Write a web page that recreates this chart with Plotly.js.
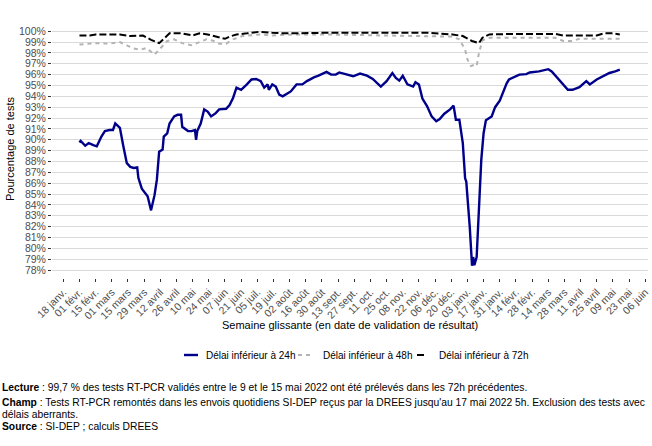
<!DOCTYPE html>
<html>
<head>
<meta charset="utf-8">
<script src="https://cdn.plot.ly/plotly-3.0.1.min.js"></script>
<style>html,body{margin:0;padding:0;background:#fff;}#chart{width:652px;height:446px;}</style>
</head>
<body>
<div id="chart"></div>
<script>
// ---- Data ----
var blueDates = ['2021-02-01','2021-02-02','2021-02-06','2021-02-09','2021-02-13','2021-02-16','2021-02-20','2021-02-23','2021-02-27',
 '2021-03-02','2021-03-04','2021-03-08','2021-03-11','2021-03-14','2021-03-17','2021-03-20','2021-03-23','2021-03-24','2021-03-27','2021-03-30',
 '2021-04-01','2021-04-04','2021-04-07','2021-04-09','2021-04-11','2021-04-14','2021-04-15','2021-04-18','2021-04-20','2021-04-24','2021-04-27','2021-04-30',
 '2021-05-01','2021-05-06','2021-05-09','2021-05-12','2021-05-13','2021-05-14','2021-05-17','2021-05-20','2021-05-23','2021-05-26','2021-05-30',
 '2021-06-02','2021-06-08','2021-06-11','2021-06-14','2021-06-17','2021-06-21','2021-06-26','2021-06-30',
 '2021-07-04','2021-07-08','2021-07-11','2021-07-14','2021-07-15','2021-07-18','2021-07-21','2021-07-24','2021-07-27','2021-07-31',
 '2021-08-03','2021-08-08','2021-08-13','2021-08-17','2021-08-23','2021-08-27',
 '2021-09-03','2021-09-07','2021-09-11','2021-09-14','2021-09-20','2021-09-26',
 '2021-10-02','2021-10-08','2021-10-13','2021-10-20','2021-10-25','2021-10-30',
 '2021-11-02','2021-11-05','2021-11-08','2021-11-12','2021-11-17','2021-11-19','2021-11-22','2021-11-25','2021-11-29',
 '2021-12-03','2021-12-07','2021-12-10','2021-12-14','2021-12-17','2021-12-19','2021-12-22','2021-12-24','2021-12-27','2021-12-30',
 '2022-01-01','2022-01-02','2022-01-05','2022-01-07','2022-01-08','2022-01-09','2022-01-11','2022-01-13','2022-01-15','2022-01-17','2022-01-19','2022-01-24','2022-01-27','2022-01-31',
 '2022-02-03','2022-02-06','2022-02-08','2022-02-11','2022-02-17','2022-02-23','2022-02-26',
 '2022-03-06','2022-03-14','2022-03-17','2022-03-23','2022-03-27','2022-03-31',
 '2022-04-04','2022-04-10','2022-04-16','2022-04-19','2022-04-25','2022-04-30',
 '2022-05-06','2022-05-11','2022-05-15'];
var blueVals = [89.75,89.9,89.45,89.7,89.5,89.4,90.3,90.8,90.9,
 90.9,91.5,91.1,89.4,87.85,87.5,87.4,87.45,86.5,85.5,85.1,
 84.8,83.5,84.9,86.3,88.9,89.1,90.3,90.6,91.5,92.15,92.3,92.3,
 91.2,90.8,90.8,90.9,90.0,90.8,91.5,92.8,92.6,92.15,92.45,
 92.8,92.85,93.2,93.85,94.8,94.6,95.1,95.55,
 95.6,95.4,94.8,95.1,94.6,95.1,94.9,94.15,94.0,94.3,
 94.45,95.1,95.1,95.4,95.75,95.9,
 96.25,96.0,96.0,96.2,96.05,95.85,
 96.1,95.9,95.6,94.9,95.4,96.15,
 95.7,95.45,95.9,95.1,94.9,95.3,95.1,93.8,93.1,
 92.15,91.7,91.9,92.4,92.6,92.8,93.15,91.85,91.85,89.7,
 86.45,86.15,82.0,78.4,79.2,78.45,79.2,83.2,88.15,90.6,91.8,92.15,93.0,93.6,
 94.45,95.2,95.55,95.7,96.0,96.05,96.2,
 96.3,96.5,96.3,95.55,95.1,94.6,
 94.6,94.85,95.4,95.1,95.55,95.85,
 96.15,96.3,96.45];

var grayDates = ['2021-02-01','2021-02-07','2021-02-15','2021-02-27','2021-03-08','2021-03-14','2021-03-20','2021-03-26','2021-03-31',
 '2021-04-04','2021-04-07','2021-04-11','2021-04-18','2021-04-24','2021-05-01','2021-05-09','2021-05-14','2021-05-22','2021-05-27',
 '2021-06-02','2021-06-08','2021-06-14','2021-06-22','2021-07-07','2021-07-18','2021-08-04','2021-09-01','2021-10-01','2021-11-01',
 '2021-12-01','2021-12-20','2021-12-27','2022-01-01','2022-01-03','2022-01-06','2022-01-09','2022-01-11','2022-01-13','2022-01-16','2022-01-22',
 '2022-02-15','2022-03-20','2022-03-27','2022-04-04','2022-04-10','2022-04-25','2022-05-15'];
var grayVals = [98.77,98.8,98.9,98.85,99.0,98.7,98.4,98.3,98.45,
 98.1,97.85,98.3,99.1,99.25,98.9,98.7,98.9,99.25,99.15,
 98.85,98.85,99.25,99.55,99.7,99.6,99.7,99.7,99.65,99.6,
 99.55,99.5,99.25,98.3,97.4,96.8,96.9,96.8,98.0,99.15,99.4,
 99.4,99.4,99.1,99.1,99.3,99.3,99.3];

var blackDates = ['2021-02-01','2021-02-10','2021-02-15','2021-03-08','2021-03-17','2021-03-23','2021-03-28','2021-04-04','2021-04-11','2021-04-20',
 '2021-05-01','2021-05-10','2021-05-16','2021-05-23','2021-06-02','2021-06-07','2021-06-11','2021-06-17','2021-06-26',
 '2021-07-07','2021-07-18','2021-07-30','2021-09-01','2021-10-01','2021-11-01','2021-12-01','2021-12-21','2021-12-30',
 '2022-01-07','2022-01-13','2022-01-16','2022-01-22','2022-02-15','2022-03-20','2022-03-27','2022-04-25','2022-05-01','2022-05-08','2022-05-15'];
var blackVals = [99.6,99.6,99.7,99.7,99.55,99.55,99.6,99.2,98.9,99.8,
 99.8,99.6,99.8,99.7,99.4,99.3,99.5,99.7,99.8,
 99.95,99.85,99.8,99.85,99.85,99.85,99.85,99.7,99.55,
 99.1,98.9,99.4,99.7,99.75,99.75,99.6,99.6,99.8,99.8,99.7];

var seriesNames = ['Délai inférieur à 24h','Délai inférieur à 48h','Délai inférieur à 72h'];

var xTickVals = ['2021-01-18','2021-02-01','2021-02-15','2021-03-01','2021-03-15','2021-03-29','2021-04-12','2021-04-26','2021-05-10','2021-05-24',
 '2021-06-07','2021-06-21','2021-07-05','2021-07-19','2021-08-02','2021-08-16','2021-08-30','2021-09-13','2021-09-27','2021-10-11','2021-10-25',
 '2021-11-08','2021-11-22','2021-12-06','2021-12-20','2022-01-03','2022-01-17','2022-01-31','2022-02-14','2022-02-28','2022-03-14','2022-03-28',
 '2022-04-11','2022-04-25','2022-05-09','2022-05-23','2022-06-06'];
var xTickText = ['18 janv.','01 févr.','15 févr.','01 mars','15 mars','29 mars','12 avril','26 avril','10 mai','24 mai',
 '07 juin','21 juin','05 juil.','19 juil.','02 août','16 août','30 août','13 sept.','27 sept.','11 oct.','25 oct.',
 '08 nov.','22 nov.','06 déc.','20 déc.','03 janv.','17 janv.','31 janv.','14 févr.','28 févr.','14 mars','28 mars',
 '11 avril','25 avril','09 mai','23 mai','06 juin'];
var yTickVals = [78,79,80,81,82,83,84,85,86,87,88,89,90,91,92,93,94,95,96,97,98,99,100];
var yTickText = yTickVals.map(function(v){return v+'%';});

var footLines = [
 '<b>Lecture</b> : 99,7 % des tests RT-PCR validés entre le 9 et le 15 mai 2022 ont été prélevés dans les 72h précédentes.',
 '<b>Champ</b> : Tests RT-PCR remontés dans les envois quotidiens SI-DEP reçus par la DREES jusqu\'au 17 mai 2022 5h. Exclusion des tests avec',
 'délais aberrants.',
 '<b>Source</b> : SI-DEP ; calculs DREES'
];

// ---- Geometry helpers (pixels -> paper) ----
var W = 652, H = 446, ML = 52, MR = 4, MT = 20, MB = 168;
var PW = W - ML - MR, PH = H - MT - MB;
function px(x){ return (x - ML) / PW; }
function py(y){ return (H - MB - y) / PH; }

var colors = ['#00008B', '#B3B3B3', '#000000'];

var traces = [
 {x: blueDates, y: blueVals, type: 'scatter', mode: 'lines', name: seriesNames[0],
  line: {color: colors[0], width: 2.4}},
 {x: grayDates, y: grayVals, type: 'scatter', mode: 'lines', name: seriesNames[1],
  line: {color: colors[1], width: 2, dash: '4px,4px'}},
 {x: blackDates, y: blackVals, type: 'scatter', mode: 'lines', name: seriesNames[2],
  line: {color: colors[2], width: 2, dash: '7px,3px'}}
];

var legY = py(355);
var shapes = [
 {type:'line', xref:'paper', yref:'paper', x0:px(184), x1:px(198), y0:legY, y1:legY, line:{color:colors[0], width:2.4}},
 {type:'line', xref:'paper', yref:'paper', x0:px(298), x1:px(314), y0:legY, y1:legY, line:{color:colors[1], width:2, dash:'4px,4px'}},
 {type:'line', xref:'paper', yref:'paper', x0:px(417), x1:px(428), y0:legY, y1:legY, line:{color:colors[2], width:2, dash:'7px,4px'}}
];

var annFont = {family: 'Liberation Sans, Arial, sans-serif', size: 10, color: '#000'};
var footFont = {family: 'Liberation Sans, Arial, sans-serif', size: 10.3, color: '#000'};
var annotations = [
 {text: 'Semaine glissante (en date de validation de résultat)', xref:'paper', yref:'paper', x: px(350), y: py(325),
  xanchor:'center', yanchor:'middle', showarrow:false, font:{family:'Liberation Sans, Arial, sans-serif', size:11, color:'#000'}},
 {text: 'Pourcentage de tests', xref:'paper', yref:'paper', x: px(10), y: py(149), textangle:-90,
  xanchor:'center', yanchor:'middle', showarrow:false, font:{family:'Liberation Sans, Arial, sans-serif', size:11, color:'#000'}},
 {text: seriesNames[0], xref:'paper', yref:'paper', x: px(204), y: legY, xanchor:'left', yanchor:'middle', showarrow:false, font: annFont},
 {text: seriesNames[1], xref:'paper', yref:'paper', x: px(321), y: legY, xanchor:'left', yanchor:'middle', showarrow:false, font: annFont},
 {text: seriesNames[2], xref:'paper', yref:'paper', x: px(437), y: legY, xanchor:'left', yanchor:'middle', showarrow:false, font: annFont}
];
var footY = [388, 402, 414, 426];
footLines.forEach(function(t, i){
 annotations.push({text: t, xref:'paper', yref:'paper', x: px(0), y: py(footY[i]), xanchor:'left', yanchor:'middle',
  showarrow:false, font: footFont});
});

var layout = {
 width: W, height: H,
 margin: {l: ML, r: MR, t: MT, b: MB, pad: 0},
 paper_bgcolor: '#fff', plot_bgcolor: '#fff',
 showlegend: false,
 font: {family: 'Liberation Sans, Arial, sans-serif', size: 10.5, color: '#4d4d4d'},
 xaxis: {type: 'date', range: ['2021-01-08 04:48', '2022-06-08 09:36'], tickmode: 'array', tickvals: xTickVals, ticktext: xTickText,
  tickangle: -45, ticks: 'outside', ticklen: 3, tickwidth: 1, tickcolor: '#333', showgrid: false, zeroline: false, showline: false,
  automargin: false, tickfont: {size: 10.5, color: '#4d4d4d'}},
 yaxis: {range: [77.27, 101.03], tickmode: 'array', tickvals: yTickVals, ticktext: yTickText, ticks: 'outside', ticklen: 3, tickwidth: 1,
  tickcolor: '#333', showgrid: true, gridcolor: '#d9d9d9', gridwidth: 1, zeroline: false, showline: false, automargin: false,
  tickfont: {size: 10.5, color: '#4d4d4d'}},
 shapes: shapes,
 annotations: annotations
};

Plotly.newPlot('chart', traces, layout, {displayModeBar: false, staticPlot: true});
</script>
</body>
</html>
